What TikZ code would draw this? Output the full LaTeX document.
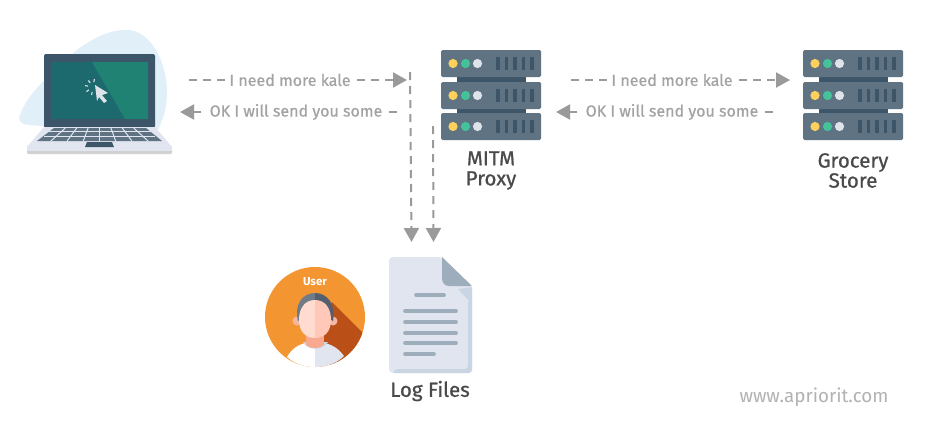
\documentclass[tikz,border=0pt]{standalone}
\usepackage{fontspec}
\setmainfont{Fira Sans}
\usetikzlibrary{arrows.meta}
\definecolor{srv}{HTML}{5F7383}
\definecolor{srvd}{HTML}{3D5568}
\definecolor{lab}{HTML}{A3A3A3}
\definecolor{arr}{HTML}{9A9A9A}
\definecolor{head}{HTML}{4A4A4A}
\definecolor{orng}{HTML}{F39530}
\definecolor{orngd}{HTML}{BA4F17}
\definecolor{pap}{HTML}{E0E5EF}
\definecolor{papd}{HTML}{C9D5E3}
\definecolor{lin}{HTML}{9DADBB}
\definecolor{blob}{HTML}{E1F0F8}
\definecolor{scrA}{HTML}{1D6A6E}
\definecolor{scrB}{HTML}{1F8272}
\definecolor{dotY}{HTML}{FBD05C}
\definecolor{dotG}{HTML}{45C29A}
\definecolor{dotW}{HTML}{DDE3E8}
\definecolor{faceL}{HTML}{FFDCCF}
\definecolor{faceR}{HTML}{FFC8B8}
\definecolor{ear}{HTML}{F5B6A4}
\definecolor{neck}{HTML}{F9A98F}
\definecolor{hairL}{HTML}{6F7B88}
\definecolor{hairR}{HTML}{55606E}
\tikzset{
  flow/.style={draw=arr,line width=2pt,dash pattern=on 8pt off 6pt,-{Triangle[length=14pt,width=15pt,fill=arr]}},
  flowlabel/.style={fill=white,text=lab,font=\fontsize{16}{16}\selectfont\addfontfeature{FakeBold=0.6},inner sep=0pt,inner xsep=3pt,minimum height=14pt},
  title/.style={text=head,font=\fontsize{20.5}{20}\selectfont\addfontfeature{FakeBold=0.8},align=center,inner sep=0pt},
  anchorbox/.style={inner sep=0pt,outer sep=0pt,minimum width=#1},
  pics/server/.style={code={
    \fill[srvd] (16,0) rectangle (85,63);
    \foreach \t in {0,32,63}{
      \fill[srv,rounded corners=1.5pt] (0,\t) rectangle (100,\t+27);
      \fill[dotY] (12,\t+13.5) circle (4.6);
      \fill[dotG] (24.5,\t+13.5) circle (4.6);
      \fill[dotW] (36.5,\t+13.5) circle (4.6);
      \foreach \b in {57,65.5,74,82.5,91}{\fill[srvd] (\b-1.6,\t+7) rectangle (\b+1.6,\t+20);}
    }
  }}
}
\begin{document}
\begin{tikzpicture}[x=1pt,y=-1pt]
\useasboundingbox (0,0) rectangle (925,432);
\fill[white] (0,0) rectangle (925,432);
% laptop
\fill[blob] (19,118) .. controls (26,95) and (45,80) .. (60,65) .. controls (80,45) and (105,29) .. (128,30) .. controls (150,31) and (166,60) .. (167,90) .. controls (167,105) and (165,115) .. (158,130) -- (60,130) .. controls (45,122) and (20,130) .. (19,118) -- cycle;
\fill[srvd,rounded corners=2pt] (44,54) rectangle (155,128);
\fill[scrA] (51,62) rectangle (148,119);
\fill[scrB] (92,62) -- (148,62) -- (148,119) -- (125,119) -- cycle;
\fill[dotW] (95,85) -- (108,93) -- (102,95) -- (107,101) -- (104,103) -- (99,97) -- (97,101) -- cycle;
\foreach \a in {100,145,190,235,280}{\draw[dotW,line width=1.1pt] (93,87)++(\a:5) -- ++(\a:3);}
\fill[pap] (44,127) -- (155,127) -- (172,147) -- (27,147) -- cycle;
\fill[srv] (54,128) -- (146,128) -- (162,141) -- (37,141) -- cycle;
\foreach \y in {131.5,136}{\draw[pap,line width=1pt] (44,\y) -- (155,\y);}
\foreach \x in {-36,-24,-12,0,12,24,36}{\draw[pap,line width=1pt] (99.5+\x*.95,128) -- (99.5+\x*1.35,141);}
\fill[black!18,rounded corners=1.5pt] (27,147.5) rectangle (172,154);
\fill[pap] (27,146) rectangle (172,151);
\fill[srvd] (87,142) -- (112,142) -- (114,147) -- (85,147) -- cycle;
\node[anchorbox=146pt,minimum height=125pt] (laptop) at (99,92) {};
% servers
\pic at (441,50) {server};
\pic at (803,50) {server};
\coordinate (proxy) at (491,95);
\coordinate (store) at (853,95);
\node[title] (mitm) at (491,170.5) {MITM\\Proxy};
\node[title] (grocery) at (853,170.5) {Grocery\\Store};
% connectors
\coordinate (a1) at (189,80); \coordinate (a2) at (407,80);
\coordinate (b1) at (397,112); \coordinate (b2) at (180,112);
\coordinate (c1) at (571,80); \coordinate (c2) at (790,80);
\coordinate (d1) at (773,112); \coordinate (d2) at (556,112);
\coordinate (e1) at (410,72); \coordinate (e2) at (411.5,242);
\coordinate (f1) at (433,126); \coordinate (f2) at (433.5,242);
\draw[flow] (a1) -- (a2);
\draw[flow] (b1) -- (b2);
\draw[flow] (c1) -- (c2);
\draw[flow] (d1) -- (d2);
\draw[flow] (e1) -- (e2);
\draw[flow] (f1) -- (f2);
\node[flowlabel] (l1) at (290,80) {I need more kale};
\node[flowlabel] (l2) at (296,112) {OK I will send you some};
\node[flowlabel] (l3) at (672,80) {I need more kale};
\node[flowlabel] (l4) at (672,112) {OK I will send you some};
% user
\fill[orng] (315,317) circle (50);
\begin{scope}
\clip (315,317) circle (50);
\fill[orngd] (332,302) -- (370,340) -- (350,375) -- (320,360) -- (315,330) -- cycle;
\end{scope}
\fill[white] (287,357) .. controls (293,346) and (303,342) .. (315,342) -- (315,367) .. controls (303,367) and (294,363) .. (287,357) -- cycle;
\fill[pap] (344,356) .. controls (337,346) and (327,342) .. (315,342) -- (315,367) .. controls (327,367) and (337,363) .. (344,356) -- cycle;
\fill[papd] (303,342) .. controls (308,351) and (322,351) .. (328,342) -- cycle;
\fill[neck] (306,335) rectangle (324,345);
\fill[neck] (306,345) .. controls (310,349) and (320,349) .. (324,345) -- cycle;
\fill[ear] (297,321) circle (4.5);
\fill[ear] (333,321) circle (4.5);
\fill[hairL] (298,321) .. controls (294,305) and (302,293) .. (315,293) -- (315,310) -- cycle;
\fill[hairR] (333,321) .. controls (336,305) and (328,293) .. (315,293) -- (315,310) -- cycle;
\fill[faceL] (315,300) -- (315,338) .. controls (305,338) and (299,331) .. (299,320) .. controls (299,308) and (305,300) .. (315,300) -- cycle;
\fill[faceR] (315,300) -- (315,338) .. controls (325,338) and (331,331) .. (331,320) .. controls (331,308) and (325,300) .. (315,300) -- cycle;
\node[text=white,font=\fontsize{11.5}{11.5}\selectfont\bfseries,inner sep=0pt] (user) at (315,282) {User};
% file
\fill[pap,rounded corners=4pt] (389,257) -- (442,257) -- (472,287) -- (472,373) -- (389,373) -- cycle;
\fill[papd] (472,287) -- (472,304) -- (458,289) -- cycle;
\fill[papd,rounded corners=3pt] (396,369) -- (468,369) -- (468,300) -- (472,300) -- (472,373) -- (392,373) -- cycle;
\fill[lin] (442,257) -- (472,286) -- (449,286) .. controls (444,286) and (442,282) .. (442,278) -- cycle;
\foreach \ya/\xa/\xb in {295/416/444,311/405/456,322/405/456,333/405/456,343/405/456,354/405/434}{
  \draw[lin,line width=3.6pt,line cap=round] (\xa,\ya) -- (\xb,\ya);
}
\node[title] (logs) at (430,391) {Log Files};
\node[text=black!30,font=\fontsize{18.8}{18.8}\selectfont,inner sep=0pt] (www) at (814,397) {www.apriorit.com};
\end{tikzpicture}
\end{document}
